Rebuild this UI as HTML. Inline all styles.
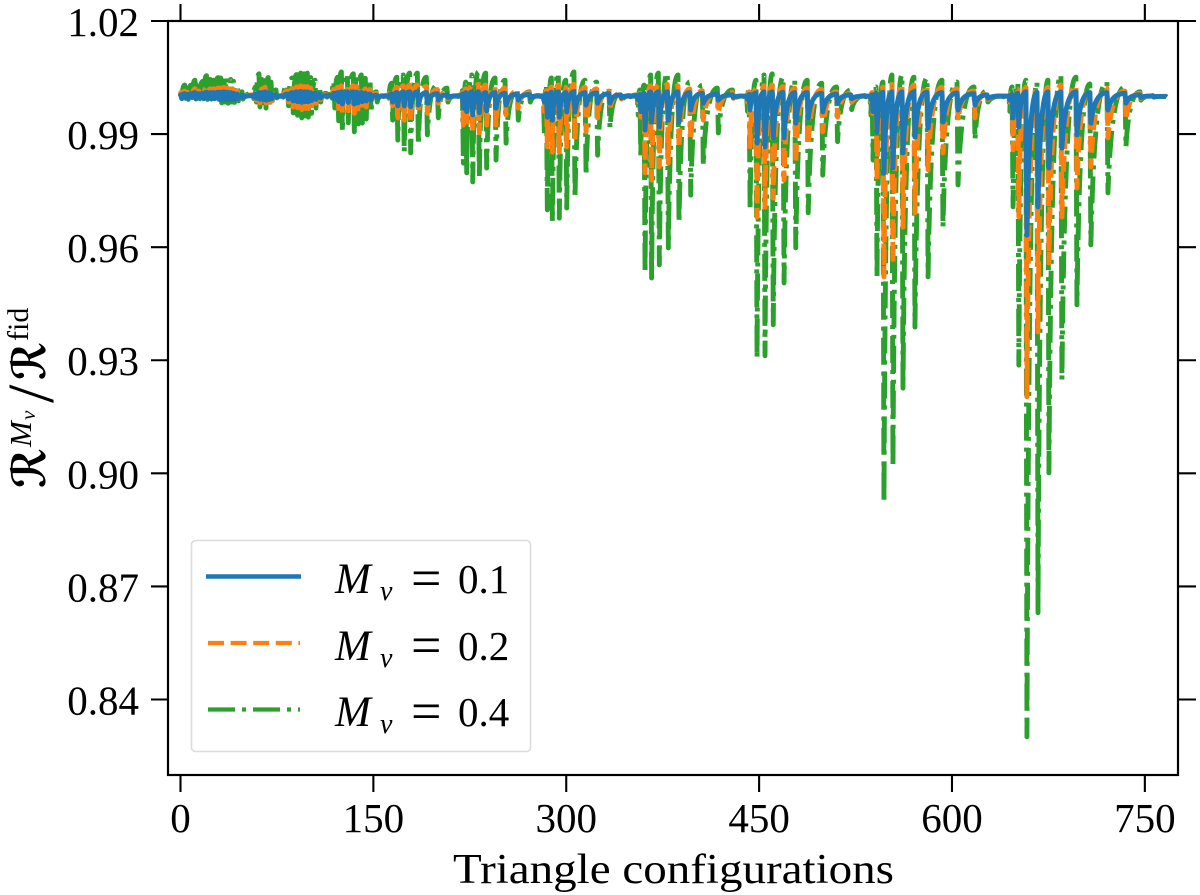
<!DOCTYPE html>
<html lang="en">
<head>
<meta charset="utf-8">
<title>Triangle configurations ratio chart</title>
<style>
html,body{margin:0;padding:0;background:#fff;}
svg{display:block;}
text{font-family:"Liberation Serif","DejaVu Serif",serif;fill:#000;}
.mi{font-style:italic;}
.scr{font-family:"DejaVu Sans","DejaVu Serif",serif;font-style:italic;font-weight:bold;}
</style>
</head>
<body>
<svg id="chart" width="1200" height="895" viewBox="0 0 1200 895" xmlns="http://www.w3.org/2000/svg">
  <rect x="0" y="0" width="1200" height="895" fill="#fff"/>
  <g id="series"></g>
  <rect x="168" y="21" width="1010" height="754" fill="none" stroke="#000" stroke-width="2.2"/>
  <g id="ticks"></g>

  <g>
    <rect x="191.5" y="540.5" width="339" height="211" rx="4" fill="#fff" fill-opacity="0.8" stroke="#dcdcdc" stroke-width="1.6"/>
    <line x1="206" x2="301" y1="576.5" y2="576.5" stroke="#1f77b4" stroke-width="4.4"/>
    <line x1="208" x2="300" y1="643" y2="643" stroke="#ff7f0e" stroke-width="4.2" stroke-dasharray="16 6.6"/>
    <line x1="208" x2="300" y1="709.5" y2="709.5" stroke="#2ca02c" stroke-width="4.2" stroke-dasharray="27 7 4 7"/>
    <text y="593" font-size="41"><tspan class="mi" x="335" font-size="43">M</tspan><tspan class="mi" x="380" y="600" font-size="28">ν</tspan><tspan x="411" y="596" font-size="54">=</tspan><tspan x="458" y="593">0.1</tspan></text>
    <text y="660" font-size="41"><tspan class="mi" x="335" font-size="43">M</tspan><tspan class="mi" x="380" y="667" font-size="28">ν</tspan><tspan x="411" y="663" font-size="54">=</tspan><tspan x="458" y="660">0.2</tspan></text>
    <text y="726" font-size="41"><tspan class="mi" x="335" font-size="43">M</tspan><tspan class="mi" x="380" y="733" font-size="28">ν</tspan><tspan x="411" y="729" font-size="54">=</tspan><tspan x="458" y="726">0.4</tspan></text>
  </g>

  <text x="453" y="883" font-size="42" textLength="441" lengthAdjust="spacingAndGlyphs">Triangle configurations</text>

  <g transform="translate(45,488) rotate(-90)">
    <text class="scr" x="0" y="0" font-size="46" textLength="40" lengthAdjust="spacingAndGlyphs">ℛ</text>
    <text class="mi" x="41" y="-14" font-size="31">M</text>
    <text class="mi" x="68" y="-10" font-size="21">ν</text>
    <text x="85" y="8" font-size="66">/</text>
    <text class="scr" x="108" y="0" font-size="46" textLength="38" lengthAdjust="spacingAndGlyphs">ℛ</text>
    <text x="147" y="-17" font-size="30">fid</text>
  </g>
</svg>
<script>
// Tick values
const xTickValues = [0, 150, 300, 450, 600, 750];
const xTickLabels = ["0", "150", "300", "450", "600", "750"];
const yTickValues = [1.02, 0.99, 0.96, 0.93, 0.90, 0.87, 0.84];
const yTickLabels = ["1.02", "0.99", "0.96", "0.93", "0.90", "0.87", "0.84"];

// Triangle configuration index of each dip
const dipConfig = [
  1,4,6,9,12,15,18,21,24,26.5,30,32,34.6,37,39.8,42,45,48.6,
  57,59,61.8,64,66.5,69,71.2,75,
  80,84,87.7,91,94.3,97,99.4,102,105.4,109,114,
  118,120,123,125.9,130.5,135.2,138,141.4,144.5,148.2,153,158,
  162,165,169,174,179,185,192,200.5,208,216,
  219,220,222.6,227.3,232.4,238.1,245.4,253.2,262.7,272,280,
  283,285.3,289.2,294.6,300.4,306.8,315.4,324.4,334,343,350,
  356,358,361.3,366.4,372.4,379.4,387.7,396.8,406.6,418.3,430,438,
  441,443,448.4,454.6,461,469.4,478.5,488.2,499.5,511,522,533,
  537,538.6,541.7,547.1,554.1,561.9,571.2,581.4,593,604.7,617.9,628,640,
  645,647.5,652,658.3,666.9,675.4,685.5,697.2,708,721.3,735.3,747,757,767
];

// M_nu = 0.4
const lowM04 = [
  .9990,.9995,.9992,.9996,.9993,.9994,.9990,.9992,.9988,.9990,.9985,.9983,.9985,.9982,.9985,.9984,.9988,.9993,
  .9994,.9985,.9972,.9975,.9969,.9975,.9982,.9996,
  .9998,.9975,.9956,.9950,.9943,.9948,.9945,.9955,.9969,.9985,.9998,
  .9995,.9969,.9935,.9906,.9930,.9906,.9915,.9929,.9940,.9956,.9985,.9999,
  .9985,.9937,.9884,.9852,.9850,.9871,.9898,.9943,.9985,.9999,
  .9990,.9823,.9797,.9773,.9784,.9810,.9831,.9876,.9937,.9985,.9999,
  .9900,.9699,.9667,.9677,.9704,.9730,.9791,.9844,.9916,.9985,.9999,
  .9950,.9839,.9532,.9518,.9553,.9598,.9667,.9738,.9818,.9903,.9990,.9999,
  .9960,.9699,.9306,.9312,.9394,.9505,.9598,.9691,.9791,.9880,.9965,.9999,
  .9950,.9831,.9521,.8921,.9017,.9226,.9388,.9521,.9653,.9765,.9885,.9985,.9999,
  .9960,.9707,.9287,.8301,.8630,.9001,.9248,.9447,.9606,.9744,.9866,.9990,.9998,.9998
];
const peakM04 = [
  1.0020,1.0030,1.0022,1.0030,1.0043,1.0030,1.0040,1.0055,1.0045,1.0043,1.0050,1.0049,1.0052,1.0049,1.0045,1.0040,1.0030,1.0012,
  1.0008,1.0025,1.0060,1.0045,1.0057,1.0050,1.0038,1.0017,
  1.0002,1.0030,1.0049,1.0058,1.0062,1.0060,1.0062,1.0050,1.0043,1.0025,1.0008,
  1.0006,1.0040,1.0051,1.0065,1.0060,1.0060,1.0057,1.0057,1.0048,1.0043,1.0012,1.0002,
  1.0006,1.0035,1.0051,1.0057,1.0062,1.0062,1.0051,1.0030,1.0022,1.0003,
  1.0004,1.0015,1.0038,1.0057,1.0065,1.0062,1.0049,1.0043,1.0017,1.0012,1.0003,
  1.0005,1.0030,1.0049,1.0062,1.0043,1.0065,1.0043,1.0038,1.0022,1.0010,1.0002,
  1.0004,1.0017,1.0030,1.0057,1.0062,1.0062,1.0057,1.0038,1.0030,1.0022,1.0017,1.0001,
  1.0002,1.0025,1.0043,1.0057,1.0060,1.0051,1.0043,1.0043,1.0035,1.0025,1.0017,1.0002,
  1.0002,1.0012,1.0025,1.0038,1.0057,1.0057,1.0051,1.0049,1.0043,1.0038,1.0025,1.0015,1.0001,
  1.0002,1.0025,1.0035,1.0043,1.0038,1.0043,1.0057,1.0051,1.0033,1.0038,1.0025,1.0012,1.0002,1.0000
];

// M_nu = 0.2
const lowM02 = [
  .9995,.9998,.9996,.9998,.9996,.9997,.9995,.9996,.9994,.9995,.9993,.9992,.9993,.9991,.9993,.9992,.9994,.9997,
  .9997,.9990,.9983,.9985,.9982,.9985,.9988,.9998,
  .9999,.9985,.9972,.9970,.9965,.9968,.9968,.9975,.9982,.9992,.9999,
  .9998,.9985,.9968,.9955,.9962,.9955,.9960,.9968,.9972,.9980,.9992,1.0000,
  .9995,.9975,.9943,.9937,.9932,.9955,.9955,.9982,.9994,1.0000,
  .9995,.9924,.9919,.9903,.9903,.9924,.9924,.9951,.9969,.9992,1.0000,
  .9960,.9866,.9852,.9852,.9866,.9884,.9906,.9943,.9964,.9993,1.0000,
  .9985,.9945,.9797,.9778,.9813,.9823,.9863,.9884,.9937,.9956,.9995,1.0000,
  .9985,.9866,.9680,.9699,.9730,.9778,.9823,.9871,.9906,.9945,.9985,1.0000,
  .9985,.9945,.9778,.9521,.9558,.9653,.9691,.9805,.9850,.9937,.9943,.9992,1.0000,
  .9985,.9858,.9680,.9203,.9375,.9558,.9680,.9757,.9813,.9890,.9937,.9995,.9999,.9998
];
const peakM02 = [
  1.0010,1.0014,1.0011,1.0014,1.0020,1.0014,1.0018,1.0024,1.0020,1.0020,1.0022,1.0022,1.0024,1.0022,1.0020,1.0018,1.0014,1.0006,
  1.0004,1.0012,1.0022,1.0020,1.0024,1.0020,1.0016,1.0008,
  1.0001,1.0014,1.0020,1.0025,1.0028,1.0026,1.0026,1.0022,1.0018,1.0012,1.0004,
  1.0003,1.0018,1.0024,1.0028,1.0026,1.0028,1.0026,1.0024,1.0020,1.0018,1.0008,1.0002,
  1.0003,1.0015,1.0024,1.0028,1.0030,1.0030,1.0026,1.0018,1.0012,1.0002,
  1.0002,1.0010,1.0020,1.0030,1.0032,1.0030,1.0026,1.0022,1.0014,1.0010,1.0002,
  1.0002,1.0015,1.0025,1.0030,1.0024,1.0032,1.0024,1.0020,1.0014,1.0008,1.0002,
  1.0002,1.0008,1.0015,1.0028,1.0032,1.0032,1.0028,1.0020,1.0015,1.0012,1.0010,1.0001,
  1.0001,1.0012,1.0020,1.0028,1.0030,1.0026,1.0022,1.0022,1.0018,1.0012,1.0008,1.0001,
  1.0001,1.0010,1.0016,1.0024,1.0032,1.0032,1.0030,1.0028,1.0024,1.0020,1.0014,1.0008,1.0001,
  1.0001,1.0012,1.0018,1.0024,1.0022,1.0024,1.0030,1.0028,1.0020,1.0022,1.0014,1.0008,1.0002,1.0000
];

// M_nu = 0.1
const lowM01 = [
  .9994,.9997,.9995,.9997,.9995,.9996,.9994,.9995,.9993,.9994,.9992,.9991,.9992,.9991,.9992,.9992,.9994,.9997,
  .9998,.9995,.9992,.9992,.9990,.9992,.9994,.9999,
  .9999,.9993,.9988,.9986,.9984,.9986,.9986,.9989,.9992,.9996,1.0000,
  .9999,.9993,.9986,.9980,.9984,.9980,.9983,.9986,.9988,.9991,.9996,1.0000,
  .9998,.9985,.9975,.9975,.9973,.9977,.9982,.9990,.9997,1.0000,
  .9998,.9969,.9960,.9951,.9957,.9962,.9969,.9977,.9990,.9997,1.0000,
  .9985,.9945,.9937,.9945,.9959,.9959,.9977,.9982,.9982,.9996,1.0000,
  .9990,.9960,.9911,.9932,.9919,.9937,.9932,.9964,.9982,.9990,.9997,1.0000,
  .9992,.9964,.9876,.9866,.9890,.9890,.9929,.9943,.9959,.9982,.9994,1.0000,
  .9992,.9960,.9906,.9797,.9810,.9850,.9892,.9916,.9932,.9964,.9977,.9995,1.0000,
  .9990,.9943,.9919,.9632,.9707,.9810,.9863,.9898,.9929,.9964,.9982,.9997,.9999,.9998
];
const peakM01 = [
  1.0004,1.0007,1.0005,1.0007,1.0010,1.0007,1.0008,1.0011,1.0010,1.0010,1.0011,1.0011,1.0012,1.0011,1.0010,1.0008,1.0006,1.0003,
  1.0002,1.0006,1.0010,1.0010,1.0012,1.0010,1.0008,1.0004,
  1.0001,1.0006,1.0010,1.0012,1.0013,1.0012,1.0012,1.0010,1.0008,1.0005,1.0002,
  1.0002,1.0008,1.0010,1.0012,1.0012,1.0012,1.0011,1.0010,1.0008,1.0006,1.0003,1.0001,
  1.0001,1.0006,1.0010,1.0012,1.0012,1.0012,1.0010,1.0007,1.0004,1.0001,
  1.0001,1.0006,1.0010,1.0012,1.0012,1.0010,1.0010,1.0008,1.0006,1.0005,1.0001,
  1.0001,1.0007,1.0011,1.0012,1.0010,1.0012,1.0010,1.0009,1.0007,1.0004,1.0001,
  1.0001,1.0005,1.0008,1.0012,1.0012,1.0012,1.0012,1.0010,1.0008,1.0006,1.0004,1.0001,
  1.0001,1.0005,1.0009,1.0012,1.0012,1.0011,1.0010,1.0010,1.0008,1.0006,1.0004,1.0001,
  1.0001,1.0004,1.0008,1.0011,1.0012,1.0012,1.0012,1.0011,1.0010,1.0009,1.0007,1.0004,1.0001,
  1.0001,1.0005,1.0008,1.0012,1.0011,1.0012,1.0012,1.0012,1.0010,1.0010,1.0008,1.0004,1.0001,1.0000
];

const NS = "http://www.w3.org/2000/svg";
const xScale = v => 180.5 + v * 1.2858;
const yScale = v => 21 + (1.02 - v) * 3769.4;

function buildPath(lows, peaks, lastIndex) {
  let d = "M" + xScale(dipConfig[0] - 1).toFixed(2) + " " + yScale(1).toFixed(2);
  for (let i = 0; i <= lastIndex; i++) {
    const bx = xScale(dipConfig[i]);
    const by = yScale(lows[i]);
    const ty = yScale(peaks[i]);
    const tx = bx - 1;
    d += "L" + tx.toFixed(2) + " " + ty.toFixed(2);
    d += "L" + bx.toFixed(2) + " " + by.toFixed(2);
    if (i < lastIndex) {
      const nx = xScale(dipConfig[i + 1]) - 1;
      const ny = yScale(peaks[i + 1]);
      const cx = bx + (nx - bx) * 0.22;
      d += "Q" + cx.toFixed(2) + " " + ny.toFixed(2) + " " + nx.toFixed(2) + " " + ny.toFixed(2);
    }
  }
  return d;
}

// Align a dash centre with the deepest dip so its two flanks overlap.
function deepestDipOffset(path, lows, peaks, period, centre) {
  const deepest = lows.indexOf(Math.min.apply(null, lows));
  path.setAttribute("d", buildPath(lows, peaks, deepest));
  const len = path.getTotalLength();
  return (centre - (len % period)).toFixed(2);
}

const seriesGroup = document.getElementById("series");
const lastDip = dipConfig.length - 1;

const lineGreen = document.createElementNS(NS, "path");


lineGreen.setAttribute("fill", "none");
lineGreen.setAttribute("stroke", "#2ca02c");
lineGreen.setAttribute("stroke-width", "4.9");
lineGreen.setAttribute("stroke-linejoin", "round");
lineGreen.setAttribute("stroke-dasharray", "27 7 4 7");
seriesGroup.appendChild(lineGreen);
lineGreen.setAttribute("stroke-dashoffset", deepestDipOffset(lineGreen, lowM04, peakM04, 45, 13.5));
lineGreen.setAttribute("d", buildPath(lowM04, peakM04, lastDip));

const lineOrange = document.createElementNS(NS, "path");


lineOrange.setAttribute("fill", "none");
lineOrange.setAttribute("stroke", "#ff7f0e");
lineOrange.setAttribute("stroke-width", "4.9");
lineOrange.setAttribute("stroke-linejoin", "round");
lineOrange.setAttribute("stroke-dasharray", "16 6.6");
seriesGroup.appendChild(lineOrange);
lineOrange.setAttribute("stroke-dashoffset", deepestDipOffset(lineOrange, lowM02, peakM02, 22.6, 8));
lineOrange.setAttribute("d", buildPath(lowM02, peakM02, lastDip));

const lineBlue = document.createElementNS(NS, "path");


lineBlue.setAttribute("d", buildPath(lowM01, peakM01, lastDip));
lineBlue.setAttribute("fill", "none");
lineBlue.setAttribute("stroke", "#1f77b4");
lineBlue.setAttribute("stroke-width", "5");
lineBlue.setAttribute("stroke-linejoin", "round");
seriesGroup.appendChild(lineBlue);

const tickGroup = document.getElementById("ticks");
const chartSvg = document.getElementById("chart");

function addTick(x1, y1, x2, y2, name) {
  const tick = document.createElementNS(NS, "line");
  
  
  tick.setAttribute("x1", x1);
  tick.setAttribute("y1", y1);
  tick.setAttribute("x2", x2);
  tick.setAttribute("y2", y2);
  tick.setAttribute("stroke", "#000");
  tick.setAttribute("stroke-width", "2.1");
  tickGroup.appendChild(tick);
}

xTickValues.forEach((v, i) => {
  const px = xScale(v);
  addTick(px, 775, px, 792, "x-tick-bottom");
  addTick(px, 21, px, 4, "x-tick-top");
  const label = document.createElementNS(NS, "text");
  
  
  label.setAttribute("x", px);
  label.setAttribute("y", 832);
  label.setAttribute("font-size", "41");
  label.setAttribute("text-anchor", "middle");
  label.textContent = xTickLabels[i];
  chartSvg.appendChild(label);
});

yTickValues.forEach((v, i) => {
  const py = yScale(v);
  addTick(168, py, 151, py, "y-tick-left");
  addTick(1178, py, 1196, py, "y-tick-right");
  const label = document.createElementNS(NS, "text");
  
  
  label.setAttribute("x", 139);
  label.setAttribute("y", py + 15);
  label.setAttribute("font-size", "41");
  label.setAttribute("text-anchor", "end");
  label.textContent = yTickLabels[i];
  chartSvg.appendChild(label);
});
</script>
</body>
</html>
